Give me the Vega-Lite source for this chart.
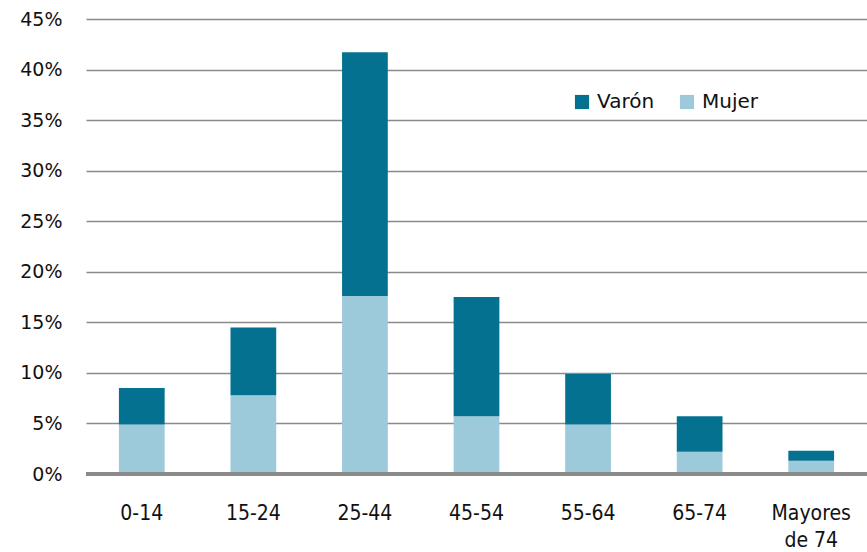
{
  "$schema": "https://vega.github.io/schema/vega-lite/v6.json",
  "autosize": "none",
  "width": 781,
  "height": 455,
  "padding": {"left": 86, "top": 19, "right": 0, "bottom": 78},
  "background": "white",
  "config": {"view": {"stroke": null}},
  "data": {"values": [
    {"edad": "0-14", "sexo": "Mujer", "valor": 0.049},
    {"edad": "0-14", "sexo": "Varón", "valor": 0.036},
    {"edad": "15-24", "sexo": "Mujer", "valor": 0.078},
    {"edad": "15-24", "sexo": "Varón", "valor": 0.067},
    {"edad": "25-44", "sexo": "Mujer", "valor": 0.176},
    {"edad": "25-44", "sexo": "Varón", "valor": 0.241},
    {"edad": "45-54", "sexo": "Mujer", "valor": 0.057},
    {"edad": "45-54", "sexo": "Varón", "valor": 0.118},
    {"edad": "55-64", "sexo": "Mujer", "valor": 0.049},
    {"edad": "55-64", "sexo": "Varón", "valor": 0.05},
    {"edad": "65-74", "sexo": "Mujer", "valor": 0.022},
    {"edad": "65-74", "sexo": "Varón", "valor": 0.035},
    {"edad": "Mayores de 74", "sexo": "Mujer", "valor": 0.013},
    {"edad": "Mayores de 74", "sexo": "Varón", "valor": 0.01}
  ]},
  "layer": [
    {
      "mark": {"type": "bar", "stroke": null},
      "encoding": {
        "x": {
          "field": "edad", "type": "nominal", "sort": null, "title": null,
          "scale": {"paddingInner": 0.59, "paddingOuter": 0.295},
          "axis": {
            "domain": false, "ticks": false, "labelAngle": 0,
            "labelFont": "DejaVu Sans Condensed", "labelFontSize": 21,
            "labelColor": "#111", "labelPadding": 39,
            "labelExpr": "datum.value == 'Mayores de 74' ? ['Mayores', 'de 74'] : datum.value",
            "labelLineHeight": 27, "labelBaseline": "middle"
          }
        },
        "y": {
          "field": "valor", "type": "quantitative", "stack": "zero", "title": null,
          "scale": {"domain": [0, 0.45], "nice": false},
          "axis": {
            "values": [0, 0.05, 0.1, 0.15, 0.2, 0.25, 0.3, 0.35, 0.4, 0.45],
            "format": ".0%", "domain": false, "ticks": false,
            "labelFont": "DejaVu Sans", "labelFontSize": 19, "labelColor": "#111",
            "labelPadding": 24,
            "grid": true, "gridColor": "#8a8a8a", "gridWidth": 1.5
          }
        },
        "color": {
          "field": "sexo", "type": "nominal", "title": null,
          "scale": {"domain": ["Varón", "Mujer"], "range": ["#03718f", "#9dcadb"]},
          "legend": {
            "orient": "none", "legendX": 486, "legendY": 73, "direction": "horizontal",
            "symbolType": "square", "symbolSize": 200, "symbolStrokeWidth": 0,
            "labelFont": "DejaVu Sans", "labelFontSize": 20, "labelColor": "#111",
            "columnPadding": 22, "labelOffset": 5
          }
        },
        "order": {"field": "sexo", "sort": "ascending"}
      }
    },
    {
      "mark": {"type": "rule", "color": "#8a8a8a", "strokeWidth": 3},
      "encoding": {"y": {"datum": 0}}
    }
  ]
}
